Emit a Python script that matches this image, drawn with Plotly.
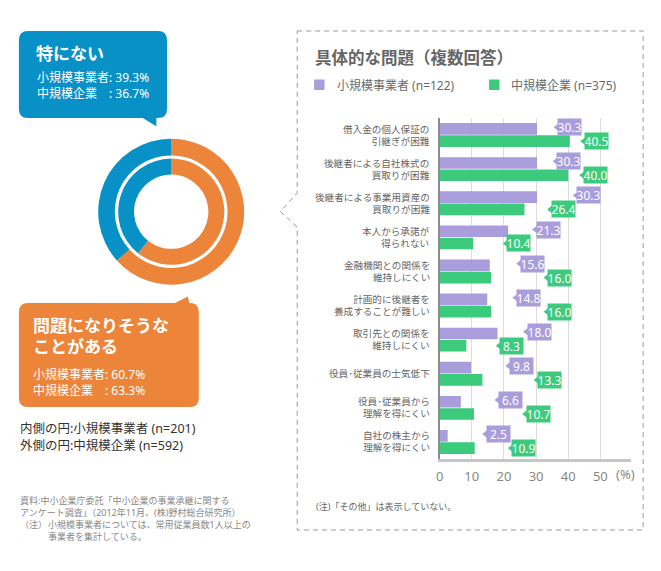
import plotly.graph_objects as go

W, H = 661, 571

# ---------------- data ----------------
categories = [
    "借入金の個人保証の\n引継ぎが困難",
    "後継者による自社株式の\n買取りが困難",
    "後継者による事業用資産の\n買取りが困難",
    "本人から承諾が\n得られない",
    "金融機関との関係を\n維持しにくい",
    "計画的に後継者を\n養成することが難しい",
    "取引先との関係を\n維持しにくい",
    "役員･従業員の士気低下",
    "役員･従業員から\n理解を得にくい",
    "自社の株主から\n理解を得にくい",
]
small_values = [30.3, 30.3, 30.3, 21.3, 15.6, 14.8, 18.0, 9.8, 6.6, 2.5]
medium_values = [40.5, 40.0, 26.4, 10.4, 16.0, 16.0, 8.3, 13.3, 10.7, 10.9]
series_names = ["小規模事業者 (n=122)", "中規模企業 (n=375)"]
x_ticks = [0, 10, 20, 30, 40, 50]

donut_labels = ["問題になりそうなことがある", "特にない"]
donut_small = [60.7, 39.3]    # inner ring (n=201)
donut_medium = [63.3, 36.7]   # outer ring (n=592)

# label callout offsets (data units to the right of bar end)
small_label_offset = [5.3, 5.0, 11.3, 7.6, 8.4, 8.0, 8.1, 10.8, 10.6, 10.9]
medium_label_offset = [3.4, 3.6, 7.2, 9.4, 16.5, 16.5, 9.3, 16.1, 15.1, 10.5]

# ---------------- style ----------------
PURPLE = "#a99ddc"
GREEN = "#3ccb7c"
BLUE = "#0891c7"
ORANGE = "#ec843a"
FONT = "Noto Sans, Noto Sans CJK JP"


def px(x):
    return x / W


def py(y):
    return 1 - y / H


def P(x, y):
    return f"{px(x):.5f},{py(y):.5f}"


idx = list(range(len(categories)))

fig = go.Figure()

fig.add_trace(go.Bar(y=idx, x=small_values, orientation="h", name=series_names[0],
                     marker=dict(color=PURPLE, line=dict(width=0)), hoverinfo="skip",
                     xaxis="x", yaxis="y"))
fig.add_trace(go.Bar(y=idx, x=medium_values, orientation="h", name=series_names[1],
                     marker=dict(color=GREEN, line=dict(width=0)), hoverinfo="skip",
                     xaxis="x", yaxis="y"))

# donuts
cx, cy = 168.2, 211.7
r_out, r_in = 73.4, 53.4
fig.add_trace(go.Pie(values=donut_medium, labels=donut_labels, sort=False,
                     direction="clockwise", rotation=0, hole=0.772,
                     marker=dict(colors=[ORANGE, BLUE], line=dict(width=0)),
                     textinfo="none", hoverinfo="skip", showlegend=False,
                     domain=dict(x=[px(cx - r_out), px(cx + r_out)],
                                 y=[py(cy + r_out), py(cy - r_out)])))
fig.add_trace(go.Pie(values=donut_small, labels=donut_labels, sort=False,
                     direction="clockwise", rotation=0, hole=0.70,
                     marker=dict(colors=[ORANGE, BLUE], line=dict(width=0)),
                     textinfo="none", hoverinfo="skip", showlegend=False,
                     domain=dict(x=[px(cx - r_in), px(cx + r_in)],
                                 y=[py(cy + r_in), py(cy - r_in)])))

# value label callouts
bar_off = 0.18
px_per_unit = (600 - 438.3) / 50.0
tip_x, tip_y, tip_c = [], [], []
annotations = []
for i in idx:
    for vals, offs, col, sgn, dy in ((small_values, small_label_offset, PURPLE, -1, 0.05),
                                      (medium_values, medium_label_offset, GREEN, 1, 0.0)):
        t = vals[i] + offs[i]
        yy = i + sgn * bar_off - dy
        tip_x.append(t + 3.0 / px_per_unit)
        tip_y.append(yy)
        tip_c.append(col)
        annotations.append(dict(x=t, y=yy, xref="x", yref="y", xanchor="left", yanchor="middle",
                                xshift=3, text=f"{vals[i]:.1f}", showarrow=False,
                                bgcolor=col, width=23, height=16, borderpad=0, align="center",
                                font=dict(family=FONT, size=12, color="white")))

fig.add_trace(go.Scatter(x=tip_x, y=tip_y, mode="markers", hoverinfo="skip", showlegend=False,
                         marker=dict(symbol="triangle-left", size=7, color=tip_c, line=dict(width=0)),
                         xaxis="x", yaxis="y", cliponaxis=False))

# category labels (right aligned)
for i, c in enumerate(categories):
    annotations.append(dict(x=px(430), y=i, xref="paper", yref="y", xanchor="right",
                            yanchor="middle", text=c.replace("\n", "<br>"), align="right",
                            showarrow=False, borderpad=0,
                            font=dict(family=FONT, size=9.6, color="#666666")))


def txt(x, y, s, size, color, bold=False, anchor="left", yanchor="middle"):
    if bold:
        s = f"<b>{s}</b>"
    annotations.append(dict(x=px(x), y=py(y), xref="paper", yref="paper", xanchor=anchor,
                            yanchor=yanchor, text=s, showarrow=False, align="left", borderpad=0,
                            font=dict(family=FONT, size=size, color=color)))


# panel title + legend
txt(312, 57.5, "具体的な問題（複数回答）", 16.5, "#666666", bold=True)
txt(334, 85, series_names[0], 12, "#6a6a6a")
txt(509.5, 85, series_names[1], 12, "#6a6a6a")
txt(625, 474, "(%)", 13, "#888888", anchor="center")
txt(313, 506, "(注)「その他」は表示していない。", 9, "#666666")

# callout texts
txt(31.5, 54, "特にない", 17, "white", bold=True)
txt(32, 86, f"小規模事業者: {donut_small[1]}%<br>中規模企業　: {donut_medium[1]}%", 12, "white")
txt(28, 325, "問題になりそうな", 17, "white", bold=True)
txt(28, 346.7, "ことがある", 17, "white", bold=True)
txt(28, 382.5, f"小規模事業者: {donut_small[0]}%<br>中規模企業　: {donut_medium[0]}%", 12, "white")

txt(15, 428.3, "内側の円:小規模事業者 (n=201)", 12.5, "#333333")
txt(15, 445, "外側の円:中規模企業 (n=592)", 12.5, "#333333")

txt(15, 506.4, "資料:中小企業庁委託「中小企業の事業承継に関する<br>"
               "アンケート調査」（2012年11月、(株)野村総合研究所）", 9, "#888888")
txt(15, 524.3, "（注）", 9, "#888888")
txt(43.3, 530, "小規模事業者については、常用従業員数1人以上の<br>"
               "事業者を集計している。", 9, "#888888")


# ---------------- shapes ----------------
def callout_path(x0, y0, x1, y1, r, tail_top=None, tail_bottom=None):
    d = f"M {P(x0 + r, y0)}"
    if tail_top:
        for (tx, ty) in tail_top:
            d += f" L {P(tx, ty)}"
    d += f" L {P(x1 - r, y0)} Q {P(x1, y0)} {P(x1, y0 + r)}"
    d += f" L {P(x1, y1 - r)} Q {P(x1, y1)} {P(x1 - r, y1)}"
    if tail_bottom:
        for (tx, ty) in tail_bottom:
            d += f" L {P(tx, ty)}"
    d += f" L {P(x0 + r, y1)} Q {P(x0, y1)} {P(x0, y1 - r)}"
    d += f" L {P(x0, y0 + r)} Q {P(x0, y0)} {P(x0 + r, y0)} Z"
    return d


shapes = [
    dict(type="path", xref="paper", yref="paper", layer="below",
         path=(f"M {P(295, 31)} L {P(643, 31)} L {P(643, 530)} L {P(295, 530)} "
               f"L {P(295, 227)} L {P(278, 211.5)} L {P(295, 193)} Z"),
         line=dict(color="#9a9a9a", width=1, dash="5px,4px"), fillcolor="rgba(0,0,0,0)"),
    dict(type="path", xref="paper", yref="paper", layer="below",
         path=callout_path(15, 31, 164, 118, 9,
                           tail_bottom=[(153.3, 118), (153.3, 126.3), (139.5, 118)]),
         line=dict(width=0), fillcolor=BLUE),
    dict(type="path", xref="paper", yref="paper", layer="below",
         path=callout_path(15, 303, 196, 407, 9,
                           tail_top=[(172, 303), (185, 296.5), (186.5, 303)]),
         line=dict(width=0), fillcolor=ORANGE),
    dict(type="rect", xref="paper", yref="paper", x0=px(312), x1=px(322.5), y0=py(90), y1=py(79.5),
         line=dict(width=0), fillcolor=PURPLE),
    dict(type="rect", xref="paper", yref="paper", x0=px(488), x1=px(498.5), y0=py(90), y1=py(79.5),
         line=dict(width=0), fillcolor=GREEN),
]

x_end = (631 - 438.3) / px_per_unit

fig.update_layout(
    width=W, height=H,
    margin=dict(l=0, r=0, t=0, b=0),
    paper_bgcolor="white", plot_bgcolor="white",
    showlegend=False,
    barmode="group", bargap=0.28, bargroupgap=0.05,
    font=dict(family=FONT, color="#666666"),
    xaxis=dict(domain=[px(438.3), px(631)], range=[0, x_end], tickvals=x_ticks,
               showgrid=True, gridcolor="#dcdcdc", gridwidth=1, zeroline=False,
               showline=True, linecolor="#c6c6c6", linewidth=2.5,
               ticks="outside", ticklen=4, tickcolor="rgba(0,0,0,0)",
               tickfont=dict(family=FONT, size=13, color="#888888"), anchor="y", fixedrange=True),
    yaxis=dict(domain=[py(459), py(118)], range=[len(categories) - 0.5, -0.5],
               showticklabels=False, showgrid=False, zeroline=False,
               showline=True, linecolor="#8c8c8c", linewidth=1.5, anchor="x", fixedrange=True),
    annotations=annotations,
    shapes=shapes,
)

fig.write_html("out.html", config={"displayModeBar": False},
               post_script="document.body.style.margin='0px';document.body.style.overflow='hidden';")
